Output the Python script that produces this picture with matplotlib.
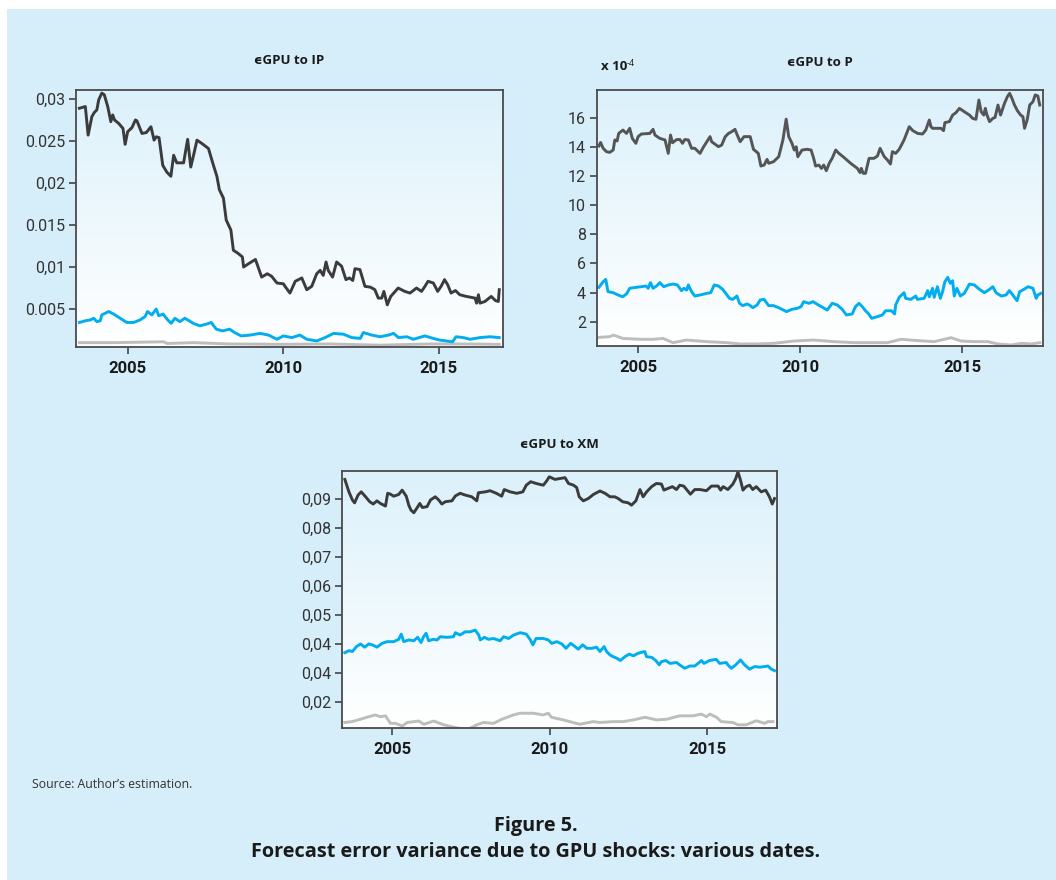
import numpy as np
import matplotlib
matplotlib.use("Agg")
import matplotlib.pyplot as plt
from matplotlib.patches import Rectangle
from matplotlib.colors import LinearSegmentedColormap
from matplotlib import font_manager

plt.rcParams['font.family'] = ['Open Sans', 'DejaVu Sans']
names = sorted({f.name for f in font_manager.fontManager.ttflist})
NARROW = 'Liberation Sans Narrow' if 'Liberation Sans Narrow' in names else 'Roboto'

# ---------------- data: forecast error variance shares ----------------
# εGPU -> IP
ip_black_t = [2003.44, 2003.63, 2003.72, 2003.84, 2003.92, 2004.0, 2004.06, 2004.16, 2004.24, 2004.35,
              2004.45, 2004.51, 2004.57, 2004.70, 2004.84, 2004.91, 2004.99, 2005.13, 2005.24, 2005.29,
              2005.45, 2005.59, 2005.74, 2005.84, 2005.91, 2006.0, 2006.12, 2006.25, 2006.38, 2006.47,
              2006.57, 2006.79, 2006.92, 2007.02, 2007.11, 2007.22, 2007.38, 2007.59, 2007.75, 2007.86,
              2007.94, 2008.07, 2008.16, 2008.31, 2008.39, 2008.55, 2008.68, 2008.72, 2008.88, 2009.10,
              2009.30, 2009.48, 2009.62, 2009.79, 2010.0, 2010.05, 2010.21, 2010.38, 2010.59, 2010.75,
              2010.91, 2011.07, 2011.18, 2011.28, 2011.37, 2011.44, 2011.58, 2011.71, 2011.87, 2012.01,
              2012.12, 2012.23, 2012.30, 2012.46, 2012.62, 2012.80, 2012.94, 2013.05, 2013.16, 2013.23,
              2013.34, 2013.45, 2013.69, 2013.90, 2014.07, 2014.28, 2014.44, 2014.55, 2014.65, 2014.82,
              2014.96, 2015.07, 2015.18, 2015.28, 2015.39, 2015.53, 2015.67, 2015.88, 2016.16, 2016.21,
              2016.27, 2016.32, 2016.48, 2016.68, 2016.82, 2016.91, 2016.94]
ip_black_v = [0.0289, 0.0291, 0.0257, 0.0279, 0.0284, 0.0287, 0.0299, 0.0307, 0.0305, 0.0291,
              0.0273, 0.0281, 0.0275, 0.0271, 0.0265, 0.0246, 0.0261, 0.0266, 0.0275, 0.0274,
              0.0259, 0.0260, 0.0267, 0.0251, 0.0255, 0.0254, 0.0221, 0.0213, 0.0208, 0.0233,
              0.0224, 0.0224, 0.0252, 0.0219, 0.0233, 0.0251, 0.0247, 0.0241, 0.0221, 0.0208,
              0.0192, 0.0182, 0.0156, 0.0144, 0.0120, 0.0116, 0.0112, 0.0100, 0.0104, 0.0109,
              0.0088, 0.0092, 0.0089, 0.0081, 0.0080, 0.0077, 0.0069, 0.0083, 0.0087, 0.0073,
              0.0077, 0.0092, 0.0096, 0.0090, 0.0106, 0.0096, 0.0088, 0.0106, 0.0101, 0.0085,
              0.0087, 0.0084, 0.0098, 0.0097, 0.0077, 0.0076, 0.0073, 0.0063, 0.0063, 0.0071,
              0.0055, 0.0065, 0.0075, 0.0071, 0.0069, 0.0075, 0.0071, 0.0077, 0.0083, 0.0081,
              0.0071, 0.0077, 0.0085, 0.0079, 0.0069, 0.0072, 0.0067, 0.0065, 0.0063, 0.0057,
              0.0067, 0.0057, 0.0059, 0.0065, 0.0060, 0.0059, 0.0073]

ip_blue_t = [2003.44, 2003.63, 2003.79, 2003.90, 2004.0, 2004.11, 2004.16, 2004.38, 2004.54, 2004.75,
             2004.96, 2005.18, 2005.39, 2005.55, 2005.63, 2005.77, 2005.91, 2005.99, 2006.13, 2006.28,
             2006.39, 2006.51, 2006.67, 2006.83, 2007.10, 2007.31, 2007.52, 2007.68, 2007.84, 2008.04,
             2008.27, 2008.43, 2008.64, 2008.93, 2009.25, 2009.52, 2009.79, 2010.0, 2010.27, 2010.53,
             2010.75, 2011.07, 2011.34, 2011.61, 2011.93, 2012.20, 2012.47, 2012.57, 2012.84, 2013.11,
             2013.38, 2013.54, 2013.70, 2013.97, 2014.18, 2014.55, 2014.82, 2015.03, 2015.25, 2015.44,
             2015.55, 2015.78, 2016.0, 2016.32, 2016.64, 2016.94]
ip_blue_v = [0.0034, 0.0036, 0.0037, 0.0039, 0.0035, 0.0036, 0.0043, 0.0047, 0.0044, 0.0039,
             0.0034, 0.0034, 0.0037, 0.0041, 0.0047, 0.0043, 0.0050, 0.0042, 0.0044, 0.0037,
             0.0033, 0.0039, 0.0035, 0.0039, 0.0033, 0.0030, 0.0032, 0.0034, 0.0026, 0.0024,
             0.0026, 0.0022, 0.0018, 0.0019, 0.0021, 0.0019, 0.0014, 0.0018, 0.0016, 0.0019,
             0.0014, 0.0012, 0.0016, 0.0021, 0.0020, 0.0016, 0.0015, 0.0022, 0.0019, 0.0017,
             0.0019, 0.0021, 0.0016, 0.0017, 0.0014, 0.0018, 0.0015, 0.0013, 0.0012, 0.0011,
             0.0017, 0.0016, 0.0014, 0.0016, 0.0017, 0.0016]

ip_grey_t = [2003.44, 2004.54, 2006.15, 2006.26, 2007.10, 2008.28, 2009.88, 2011.49, 2013.09, 2014.70,
             2015.77, 2016.94]
ip_grey_v = [0.0010, 0.0010, 0.0011, 0.0009, 0.0010, 0.00084, 0.0008, 0.00084, 0.0007, 0.00084,
             0.00084, 0.0008]

# εGPU -> P (units of 1e-4)
p_black_t = [2003.79, 2003.84, 2003.92, 2004.02, 2004.12, 2004.23, 2004.28, 2004.35, 2004.40, 2004.53,
             2004.64, 2004.74, 2004.82, 2004.93, 2005.0, 2005.10, 2005.36, 2005.46, 2005.52, 2005.67,
             2005.83, 2005.93, 2006.0, 2006.06, 2006.19, 2006.29, 2006.37, 2006.44, 2006.55, 2006.65,
             2006.75, 2006.91, 2007.01, 2007.12, 2007.22, 2007.27, 2007.48, 2007.58, 2007.69, 2007.79,
             2007.89, 2007.99, 2008.06, 2008.15, 2008.27, 2008.46, 2008.56, 2008.71, 2008.79, 2008.89,
             2008.98, 2009.03, 2009.18, 2009.34, 2009.47, 2009.57, 2009.65, 2009.75, 2009.82, 2009.88,
             2009.93, 2010.06, 2010.22, 2010.34, 2010.42, 2010.48, 2010.58, 2010.66, 2010.73, 2010.81,
             2010.90, 2010.99, 2011.10, 2011.20, 2011.35, 2011.56, 2011.77, 2011.85, 2011.89, 2011.95,
             2012.02, 2012.13, 2012.28, 2012.39, 2012.47, 2012.60, 2012.70, 2012.79, 2012.85, 2012.95,
             2013.06, 2013.21, 2013.37, 2013.48, 2013.63, 2013.78, 2013.88, 2013.99, 2014.04, 2014.09,
             2014.35, 2014.43, 2014.47, 2014.61, 2014.71, 2014.81, 2014.92, 2015.07, 2015.23, 2015.33,
             2015.43, 2015.52, 2015.59, 2015.67, 2015.72, 2015.77, 2015.85, 2015.95, 2016.02, 2016.11,
             2016.19, 2016.31, 2016.40, 2016.47, 2016.54, 2016.62, 2016.71, 2016.81, 2016.88, 2016.93,
             2017.01, 2017.09, 2017.19, 2017.26, 2017.34, 2017.40]
p_black_v = [14.06, 14.30, 13.90, 13.67, 13.62, 13.78, 14.47, 14.40, 14.92, 15.15,
             14.92, 15.27, 14.58, 14.24, 14.70, 14.88, 14.92, 15.20, 14.81, 14.58,
             14.47, 13.55, 14.81, 14.28, 14.50, 14.50, 14.24, 14.50, 14.47, 13.90,
             13.90, 13.55, 13.96, 14.35, 14.70, 14.35, 14.01, 14.12, 14.70, 14.92,
             15.04, 15.20, 14.81, 14.35, 14.70, 14.70, 13.83, 13.55, 12.68, 12.75,
             13.14, 12.87, 12.98, 13.32, 14.47, 15.90, 14.70, 14.24, 13.78, 14.00,
             13.32, 13.78, 13.83, 13.78, 13.21, 12.68, 12.75, 12.52, 12.75, 12.36,
             12.87, 13.21, 13.78, 13.55, 13.28, 12.87, 12.52, 12.23, 12.52, 12.18,
             12.18, 13.21, 13.21, 13.37, 13.90, 13.32, 13.09, 12.82, 13.67, 13.55,
             13.83, 14.47, 15.38, 15.11, 14.92, 14.88, 15.15, 15.84, 15.38, 15.27,
             15.27, 15.11, 15.66, 15.73, 16.18, 16.34, 16.64, 16.41, 16.18, 15.95,
             15.89, 17.21, 16.41, 16.18, 16.64, 16.18, 15.73, 15.95, 16.02, 16.87,
             16.18, 16.98, 17.44, 17.67, 17.33, 16.87, 16.48, 16.18, 16.07, 15.27,
             15.84, 16.87, 17.10, 17.56, 17.49, 16.87]

p_blue_t = [2003.79, 2003.92, 2004.0, 2004.07, 2004.23, 2004.38, 2004.52, 2004.64, 2004.74, 2004.95,
            2005.10, 2005.24, 2005.31, 2005.38, 2005.46, 2005.57, 2005.67, 2005.79, 2005.93, 2006.08,
            2006.21, 2006.34, 2006.41, 2006.50, 2006.55, 2006.65, 2006.75, 2006.91, 2007.12, 2007.24,
            2007.35, 2007.48, 2007.61, 2007.72, 2007.82, 2007.92, 2008.05, 2008.13, 2008.23, 2008.36,
            2008.44, 2008.54, 2008.67, 2008.77, 2008.89, 2009.03, 2009.18, 2009.34, 2009.58, 2009.75,
            2009.91, 2010.03, 2010.11, 2010.27, 2010.40, 2010.57, 2010.84, 2010.99, 2011.15, 2011.30,
            2011.43, 2011.61, 2011.71, 2011.82, 2011.92, 2012.02, 2012.12, 2012.21, 2012.38, 2012.54,
            2012.64, 2012.82, 2012.92, 2012.95, 2013.06, 2013.21, 2013.26, 2013.42, 2013.57, 2013.62,
            2013.83, 2013.94, 2013.99, 2014.09, 2014.14, 2014.24, 2014.33, 2014.40, 2014.47, 2014.56,
            2014.64, 2014.71, 2014.76, 2014.84, 2014.95, 2015.07, 2015.23, 2015.38, 2015.54, 2015.69,
            2015.85, 2015.95, 2016.05, 2016.21, 2016.36, 2016.46, 2016.53, 2016.62, 2016.70, 2016.78,
            2016.91, 2017.04, 2017.19, 2017.29, 2017.34, 2017.43]
p_blue_v = [4.36, 4.74, 4.90, 4.06, 3.99, 3.83, 3.71, 3.90, 4.29, 4.36,
            4.40, 4.45, 4.29, 4.68, 4.29, 4.45, 4.68, 4.40, 4.52, 4.58,
            4.52, 4.13, 4.29, 4.17, 4.52, 4.06, 3.76, 3.83, 3.94, 3.99,
            4.52, 4.45, 4.22, 3.90, 3.60, 3.53, 3.76, 3.26, 3.10, 3.21,
            3.14, 2.96, 3.14, 3.49, 3.53, 3.10, 3.10, 2.96, 2.69, 2.85,
            2.91, 3.03, 3.37, 3.26, 3.37, 3.14, 2.80, 3.26, 3.14, 2.85,
            2.46, 2.53, 3.03, 3.26, 3.03, 2.75, 2.53, 2.23, 2.34, 2.46,
            2.75, 2.75, 2.53, 3.14, 3.67, 3.99, 3.60, 3.53, 3.76, 3.53,
            3.60, 4.13, 3.71, 4.29, 3.67, 4.40, 3.60, 4.06, 4.74, 5.04,
            4.63, 4.81, 3.76, 4.29, 3.76, 3.94, 4.58, 4.52, 4.22, 3.99,
            4.22, 4.40, 3.99, 3.76, 3.83, 4.13, 3.94, 3.67, 3.44, 4.06,
            4.22, 4.40, 4.29, 3.60, 3.83, 3.94]

p_grey_t = [2003.79, 2004.12, 2004.24, 2004.53, 2005.05, 2005.46, 2005.77, 2006.08, 2006.49, 2007.11,
            2007.73, 2008.15, 2008.66, 2009.18, 2009.80, 2010.42, 2011.04, 2011.66, 2012.28, 2012.70,
            2013.11, 2013.63, 2014.14, 2014.66, 2014.97, 2015.38, 2015.80, 2016.10, 2016.52, 2016.83,
            2017.14, 2017.40]
p_grey_v = [0.92, 0.97, 1.08, 0.85, 0.79, 0.79, 0.85, 0.56, 0.74, 0.63,
            0.56, 0.47, 0.47, 0.51, 0.67, 0.74, 0.63, 0.56, 0.56, 0.56,
            0.79, 0.70, 0.63, 0.90, 0.67, 0.63, 0.63, 0.47, 0.40, 0.51,
            0.47, 0.56]

# εGPU -> XM
xm_black_t = [2003.50, 2003.63, 2003.74, 2003.81, 2003.92, 2004.02, 2004.16, 2004.29, 2004.40, 2004.52,
              2004.63, 2004.79, 2004.86, 2004.95, 2005.05, 2005.21, 2005.32, 2005.45, 2005.53, 2005.60,
              2005.69, 2005.80, 2005.88, 2005.96, 2006.11, 2006.22, 2006.37, 2006.48, 2006.58, 2006.69,
              2006.90, 2007.01, 2007.16, 2007.32, 2007.53, 2007.69, 2007.74, 2007.96, 2008.11, 2008.31,
              2008.48, 2008.56, 2008.75, 2008.96, 2009.15, 2009.26, 2009.40, 2009.57, 2009.80, 2009.91,
              2009.99, 2010.17, 2010.33, 2010.49, 2010.60, 2010.76, 2010.86, 2010.94, 2011.07, 2011.23,
              2011.39, 2011.60, 2011.76, 2011.92, 2012.07, 2012.18, 2012.32, 2012.50, 2012.60, 2012.74,
              2012.87, 2012.97, 2013.08, 2013.24, 2013.39, 2013.55, 2013.63, 2013.76, 2013.90, 2014.03,
              2014.13, 2014.26, 2014.47, 2014.61, 2014.77, 2014.98, 2015.14, 2015.35, 2015.43, 2015.51,
              2015.66, 2015.82, 2015.91, 2015.98, 2016.06, 2016.14, 2016.24, 2016.35, 2016.45, 2016.56,
              2016.72, 2016.86, 2016.98, 2017.07, 2017.14]
xm_black_v = [0.0968, 0.0925, 0.0897, 0.0887, 0.0914, 0.0925, 0.0908, 0.0891, 0.0883, 0.0894,
              0.0885, 0.0876, 0.0920, 0.0917, 0.0910, 0.0916, 0.0931, 0.0910, 0.0879, 0.0862,
              0.0853, 0.0871, 0.0885, 0.0871, 0.0874, 0.0897, 0.0908, 0.0897, 0.0883, 0.0891,
              0.0894, 0.0911, 0.0920, 0.0914, 0.0908, 0.0894, 0.0922, 0.0925, 0.0929, 0.0920,
              0.0910, 0.0933, 0.0925, 0.0920, 0.0925, 0.0948, 0.0960, 0.0954, 0.0948, 0.0963,
              0.0977, 0.0968, 0.0971, 0.0974, 0.0954, 0.0948, 0.0940, 0.0908, 0.0894, 0.0902,
              0.0916, 0.0928, 0.0920, 0.0908, 0.0908, 0.0902, 0.0891, 0.0887, 0.0879, 0.0894,
              0.0933, 0.0908, 0.0925, 0.0943, 0.0954, 0.0952, 0.0931, 0.0937, 0.0943, 0.0933,
              0.0948, 0.0945, 0.0917, 0.0933, 0.0933, 0.0929, 0.0945, 0.0945, 0.0931, 0.0943,
              0.0933, 0.0952, 0.0971, 0.0994, 0.0966, 0.0931, 0.0943, 0.0948, 0.0933, 0.0943,
              0.0925, 0.0931, 0.0908, 0.0883, 0.0902]

xm_blue_t = [2003.50, 2003.63, 2003.74, 2003.87, 2004.0, 2004.13, 2004.26, 2004.37, 2004.52, 2004.68,
             2004.84, 2005.05, 2005.21, 2005.29, 2005.37, 2005.53, 2005.69, 2005.81, 2005.92, 2006.0,
             2006.08, 2006.16, 2006.30, 2006.43, 2006.53, 2006.74, 2006.95, 2007.01, 2007.16, 2007.32,
             2007.48, 2007.64, 2007.75, 2007.80, 2007.93, 2008.06, 2008.22, 2008.43, 2008.54, 2008.70,
             2008.86, 2009.07, 2009.26, 2009.38, 2009.47, 2009.57, 2009.80, 2009.96, 2010.07, 2010.23,
             2010.39, 2010.52, 2010.67, 2010.81, 2010.91, 2011.05, 2011.18, 2011.34, 2011.49, 2011.60,
             2011.73, 2011.81, 2011.92, 2012.02, 2012.13, 2012.25, 2012.39, 2012.53, 2012.66, 2012.81,
             2013.02, 2013.08, 2013.24, 2013.37, 2013.48, 2013.55, 2013.69, 2013.82, 2014.03, 2014.13,
             2014.29, 2014.45, 2014.61, 2014.75, 2014.82, 2014.90, 2015.08, 2015.29, 2015.40, 2015.61,
             2015.66, 2015.77, 2015.91, 2016.06, 2016.19, 2016.35, 2016.51, 2016.67, 2016.83, 2016.93,
             2017.04, 2017.14]
xm_blue_v = [0.0370, 0.0377, 0.0374, 0.0391, 0.0400, 0.0389, 0.0400, 0.0397, 0.0389, 0.0402,
             0.0408, 0.0408, 0.0416, 0.0434, 0.0408, 0.0414, 0.0411, 0.0423, 0.0405, 0.0425,
             0.0437, 0.0411, 0.0416, 0.0414, 0.0425, 0.0423, 0.0425, 0.0439, 0.0431, 0.0442,
             0.0442, 0.0448, 0.0431, 0.0414, 0.0423, 0.0416, 0.0419, 0.0411, 0.0425, 0.0419,
             0.0431, 0.0439, 0.0434, 0.0416, 0.0397, 0.0419, 0.0419, 0.0414, 0.0402, 0.0408,
             0.0400, 0.0385, 0.0402, 0.0391, 0.0382, 0.0397, 0.0385, 0.0385, 0.0389, 0.0374,
             0.0391, 0.0374, 0.0362, 0.0356, 0.0351, 0.0343, 0.0356, 0.0365, 0.0359, 0.0368,
             0.0374, 0.0356, 0.0354, 0.0343, 0.0328, 0.0339, 0.0343, 0.0333, 0.0336, 0.0328,
             0.0316, 0.0324, 0.0324, 0.0336, 0.0343, 0.0333, 0.0343, 0.0347, 0.0333, 0.0336,
             0.0328, 0.0316, 0.0328, 0.0345, 0.0328, 0.0313, 0.0322, 0.0320, 0.0322, 0.0324,
             0.0313, 0.0308]

xm_grey_t = [2003.50, 2003.73, 2003.99, 2004.26, 2004.47, 2004.63, 2004.79, 2004.95, 2005.11, 2005.32,
             2005.48, 2005.85, 2006.01, 2006.32, 2006.64, 2006.95, 2007.22, 2007.43, 2007.69, 2007.90,
             2008.22, 2008.48, 2008.85, 2009.06, 2009.48, 2009.80, 2009.96, 2010.06, 2010.43, 2010.96,
             2011.39, 2011.60, 2012.02, 2012.34, 2012.66, 2013.03, 2013.40, 2013.71, 2014.13, 2014.56,
             2014.82, 2014.98, 2015.09, 2015.30, 2015.45, 2015.82, 2015.98, 2016.24, 2016.56, 2016.83,
             2016.93, 2017.09]
xm_grey_v = [0.0129, 0.0132, 0.0140, 0.0149, 0.0155, 0.0149, 0.0152, 0.0126, 0.0126, 0.0117,
             0.0129, 0.0134, 0.0123, 0.0134, 0.0121, 0.0113, 0.0107, 0.0107, 0.0121, 0.0129,
             0.0126, 0.0140, 0.0155, 0.0161, 0.0161, 0.0155, 0.0161, 0.0147, 0.0138, 0.0123,
             0.0132, 0.0129, 0.0132, 0.0132, 0.0138, 0.0147, 0.0138, 0.0140, 0.0152, 0.0152,
             0.0158, 0.0149, 0.0158, 0.0147, 0.0132, 0.0129, 0.0121, 0.0121, 0.0135, 0.0126,
             0.0132, 0.0132]

# ---------------- axis settings ----------------
year_ticks = [2005, 2010, 2015]
year_labels = ['2005', '2010', '2015']

ip_yticks = [0.03, 0.025, 0.02, 0.015, 0.01, 0.005]
ip_ylabels = ['0,03', '0.025', '0,02', '0.015', '0,01', '0.005']
p_yticks = [16, 14, 12, 10, 8, 6, 4, 2]
p_ylabels = ['16', '14', '12', '10', '8', '6', '4', '2']
xm_yticks = [0.09, 0.08, 0.07, 0.06, 0.05, 0.04, 0.03, 0.02]
xm_ylabels = ['0,09', '0,08', '0,07', '0,06', '0,05', '0,04', '0,04', '0,02']

titles = ['\u03f5GPU to IP', '\u03f5GPU to P', '\u03f5GPU to XM']

BLACK = '#3b3b3b'
BLUE = '#00aeef'
GREY = '#bdbdbd'
PANEL_BG = '#d6edfa'

W, H = 1056, 880
fig = plt.figure(figsize=(W / 100, H / 100), dpi=100, facecolor='white')

# light-blue panel behind everything
fig.patches.append(Rectangle((7 / W, 0), 1 - 7 / W, 1 - 9 / H, transform=fig.transFigure,
                             facecolor=PANEL_BG, edgecolor='none', zorder=-10))

grad_cmap = LinearSegmentedColormap.from_list('bg', ['#dcf1fb', '#ffffff'])


def px_axes(l, t, r, b):
    return fig.add_axes([l / W, 1 - b / H, (r - l) / W, (b - t) / H])


def style(ax, xlim, ylim, yticks, ylabels):
    ax.set_xlim(*xlim)
    ax.set_ylim(*ylim)
    ax.imshow(np.linspace(0, 1, 256).reshape(-1, 1), cmap=grad_cmap, aspect='auto',
              extent=[xlim[0], xlim[1], ylim[0], ylim[1]], origin='upper', zorder=0)
    ax.set_xticks(year_ticks)
    ax.set_xticklabels(year_labels, fontsize=12, fontweight='bold', color='#1a1a1a',
                       family=[NARROW, 'DejaVu Sans'])
    ax.set_yticks(yticks)
    ax.set_yticklabels(ylabels, fontsize=11.5, color='#333333', family=[NARROW, 'DejaVu Sans'])
    ax.tick_params(axis='both', direction='out', length=5, width=1.2, color='#444444')
    ax.tick_params(axis='x', pad=5)
    ax.tick_params(axis='y', pad=3)
    for s in ax.spines.values():
        s.set_color('#4a4a4a')
        s.set_linewidth(1.3)
        s.set_zorder(5)


def draw(ax, series):
    for t, v, c in series:
        ax.plot(t, v, color=c, lw=2.1, solid_joinstyle='round', zorder=3)


ax1 = px_axes(76, 90, 503, 347)
style(ax1, (2003.33, 2017.06), (0.00048, 0.03107), ip_yticks, ip_ylabels)
draw(ax1, [(ip_grey_t, ip_grey_v, GREY), (ip_blue_t, ip_blue_v, BLUE), (ip_black_t, ip_black_v, BLACK)])

ax2 = px_axes(597, 90, 1043, 346)
style(ax2, (2003.73, 2017.5), (0.33, 17.9), p_yticks, p_ylabels)
draw(ax2, [(p_grey_t, p_grey_v, GREY), (p_blue_t, p_blue_v, BLUE), (p_black_t, p_black_v, '#555555')])

ax3 = px_axes(342, 471, 777, 728)
style(ax3, (2003.41, 2017.22), (0.011, 0.0997), xm_yticks, xm_ylabels)
draw(ax3, [(xm_grey_t, xm_grey_v, GREY), (xm_blue_t, xm_blue_v, BLUE), (xm_black_t, xm_black_v, BLACK)])

# panel titles
TITLE_KW = dict(ha='center', va='center', fontsize=9.5, fontweight='bold', color='#1a1a1a')
fig.text(289 / W, 1 - 61 / H, titles[0], **TITLE_KW)
fig.text(820 / W, 1 - 62 / H, titles[1], **TITLE_KW)
fig.text(559 / W, 1 - 444 / H, titles[2], **TITLE_KW)

# scale factor of the P panel
fig.text(601 / W, 1 - 67 / H, 'x 10', ha='left', va='center', fontsize=9.5, fontweight='bold',
         color='#1a1a1a')
fig.text(627 / W, 1 - 63 / H, '-4', ha='left', va='center', fontsize=6.5, color='#1a1a1a')

# footer
fig.text(32 / W, 1 - 784 / H, 'Source: Author\u2019s estimation.', ha='left', va='center',
         fontsize=8.8, color='#333333')
fig.text(536 / W, 1 - 826 / H, 'Figure 5.', ha='center', va='center', fontsize=14.3,
         fontweight='bold', color='#1a1a1a')
fig.text(536 / W, 1 - 852 / H, 'Forecast error variance due to GPU shocks: various dates.',
         ha='center', va='center', fontsize=14.3, fontweight='bold', color='#1a1a1a')

fig.savefig('out.png', dpi=100, facecolor='white')
